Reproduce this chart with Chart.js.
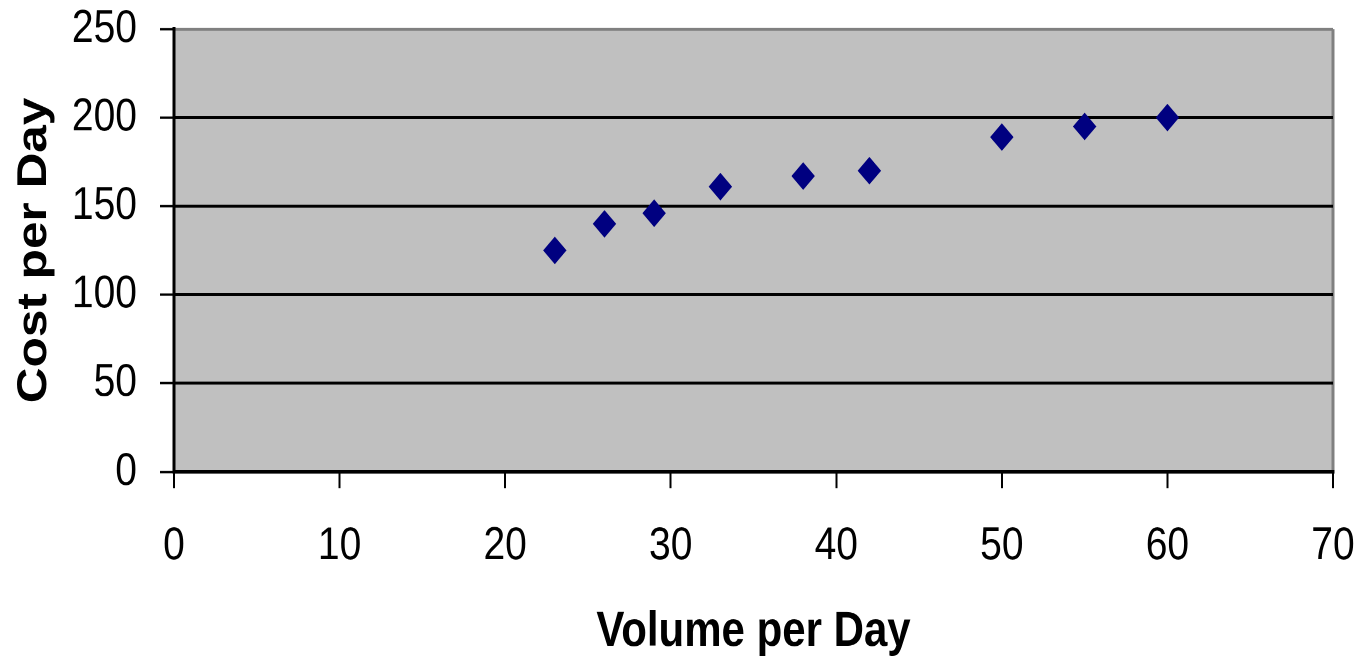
<!DOCTYPE html>
<html>
<head>
<meta charset="utf-8">
<script src="https://cdn.jsdelivr.net/npm/chart.js@4.4.1/dist/chart.umd.min.js"></script>
<style>
  html, body { margin: 0; padding: 0; background: #fff; }
  #page { width: 1371px; height: 657px; overflow: hidden; }
  /* the original picture is stretched vertically (diamonds 22 wide, 26 tall) */
  #wrap { width: 1371px; height: 557px; transform: scaleY(1.1795); transform-origin: 0 0; }
  #chart { display: block; }
</style>
</head>
<body>
<div id="page"><div id="wrap"><canvas id="chart" width="1371" height="557"></canvas></div></div>
<script>
// volume vs cost
const volume = [23, 26, 29, 33, 38, 42, 50, 55, 60];
const cost = [125, 140, 146, 161, 167, 170, 189, 195, 200];
const xTicks = [0, 10, 20, 30, 40, 50, 60, 70];
const yTicks = [0, 50, 100, 150, 200, 250];

const points = volume.map((v, i) => ({ x: v, y: cost[i] }));

// gray plot area background
const plotBg = {
    id: 'plotBg',
    beforeDraw(chart) {
        const a = chart.chartArea;
        const ctx = chart.ctx;
        ctx.save();
        ctx.fillStyle = '#c0c0c0';
        ctx.fillRect(a.left, a.top, a.right - a.left, a.bottom - a.top);
        ctx.restore();
    }
};

new Chart(document.getElementById('chart'), {
    type: 'scatter',
    data: {
        datasets: [{
            data: points,
            pointStyle: 'rectRot',
            pointRadius: 11,
            pointHoverRadius: 11,
            backgroundColor: '#000080',
            borderColor: '#000080',
            borderWidth: 1
        }]
    },
    plugins: [plotBg],
    options: {
        responsive: false,
        devicePixelRatio: 2,
        animation: false,
        layout: { padding: { top: 24.6, right: 38, left: 0, bottom: 0 } },
        plugins: { legend: { display: false }, tooltip: { enabled: false } },
        scales: {
            x: {
                type: 'linear',
                min: 0, max: 70,
                afterBuildTicks: s => { s.ticks = xTicks.map(v => ({ value: v })); },
                // fixed box, no extra room for label overflow
                afterFit: s => { s.height = 157; s.paddingLeft = 0; s.paddingRight = 0; },
                border: { color: '#000', width: 3 },
                grid: {
                    color: c => c.tick && c.tick.value === 70 ? '#808080' : 'rgba(0,0,0,0)',
                    lineWidth: 3,
                    tickColor: '#000',
                    tickWidth: 2,
                    tickLength: 14,
                    drawTicks: true
                },
                ticks: {
                    color: '#000',
                    padding: 26,
                    maxRotation: 0,
                    font: { family: 'Liberation Sans', size: 39 }
                },
                title: {
                    display: true,
                    text: 'Volume per Day',
                    color: '#000',
                    padding: { top: 0, bottom: 0 },
                    font: { family: 'Liberation Sans', size: 42, weight: 'bold', lineHeight: 1 }
                }
            },
            y: {
                type: 'linear',
                min: 0, max: 250,
                afterBuildTicks: s => { s.ticks = yTicks.map(v => ({ value: v })); },
                afterFit: s => { s.width = 174; s.paddingTop = 0; s.paddingBottom = 0; },
                border: { color: '#000', width: 3 },
                grid: {
                    color: c => c.tick && c.tick.value === 250 ? '#808080' : '#000',
                    lineWidth: 2.5,
                    tickColor: '#000',
                    tickWidth: 2,
                    tickLength: 14,
                    drawTicks: true
                },
                ticks: {
                    color: '#000',
                    padding: 23,
                    font: { family: 'Liberation Sans', size: 39 }
                },
                title: {
                    display: true,
                    text: 'Cost per Day',
                    color: '#000',
                    padding: { top: 9, bottom: 0 },
                    font: { family: 'Liberation Sans', size: 42, weight: 'bold' }
                }
            }
        }
    }
});
</script>
</body>
</html>
